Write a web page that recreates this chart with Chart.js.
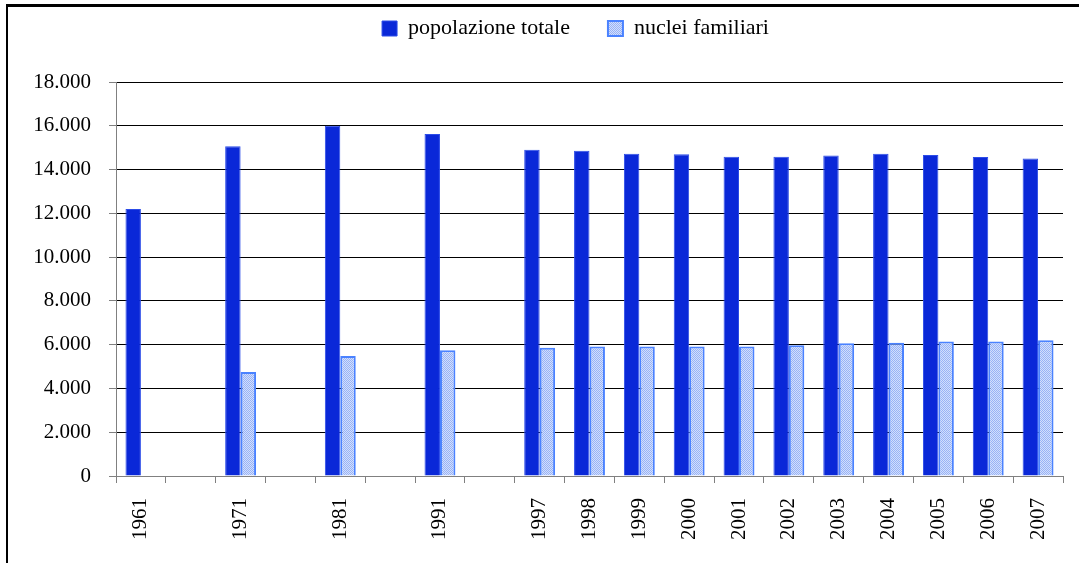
<!DOCTYPE html>
<html><head><meta charset="utf-8">
<script src="https://cdn.jsdelivr.net/npm/chart.js@4.4.1/dist/chart.umd.min.js"></script>
<style>html,body{margin:0;padding:0;background:#fff;}#wrap{width:1079px;height:563px;position:relative;}</style>
</head><body><div id="wrap"><canvas id="c" width="1079" height="563"></canvas></div>
<script>
const categories = ['1961','','1971','','1981','','1991','','1997','1998','1999','2000','2001','2002','2003','2004','2005','2006','2007'];
const popolazioneTotale = [12200,null,15060,null,16000,null,15620,null,14900,14860,14720,14700,14580,14580,14640,14720,14660,14570,14510];
const nucleiFamiliari = [null,null,4750,null,5480,null,5750,null,5860,5920,5920,5920,5920,5970,6070,6090,6150,6150,6200];
const seriesNames = ['popolazione totale','nuclei familiari'];
const yMin = 0, yMax = 18000, yStep = 2000;

function fmt(v){ return String(v).replace(/\B(?=(\d{3})+(?!\d))/g,'.'); }

const FONT = "'Liberation Serif','Times New Roman',serif";
const canvas = document.getElementById('c');
const ctx = canvas.getContext('2d');

const pc = document.createElement('canvas'); pc.width = 2; pc.height = 2;
const pctx = pc.getContext('2d');
pctx.fillStyle = '#d2dffc'; pctx.fillRect(0,0,2,2);
pctx.fillStyle = '#98b2f6'; pctx.fillRect(0,0,1,1); pctx.fillRect(1,1,1,1);
const hatch = ctx.createPattern(pc,'repeat');

const framePlugin = {
  id: 'frame',
  beforeDraw(chart){
    const c = chart.ctx; c.save();
    c.fillStyle = '#fff'; c.fillRect(0,0,chart.width,chart.height);
    c.fillStyle = '#000';
    c.fillRect(6,4,chart.width-6,3);
    c.fillRect(6,4,2,chart.height-4);
    c.restore();
  }
};

const LEGEND_PAD = 38, LEGEND_FS = 22;
const legendPlacer = {
  id: 'legendPlacer',
  beforeLayout(chart){
    const lg = chart.legend;
    if (lg && !lg._patched){
      const orig = lg.fit;
      lg.fit = function(){ orig.call(this); this.height = 82; };
      lg._patched = true;
    }
  },
  afterLayout(chart){
    const lg = chart.legend; if (!lg) return;
    const h = lg.bottom - lg.top;
    lg.top = 28.5 - LEGEND_PAD - LEGEND_FS/2; lg.bottom = lg.top + h;
    const w = lg.right - lg.left;
    lg.left = 575.5 - w/2; lg.right = lg.left + w;
  }
};

new Chart(ctx, {
  type: 'bar',
  data: {
    labels: categories,
    datasets: [
      { label: seriesNames[0], data: popolazioneTotale, backgroundColor: '#0a28d8', borderColor: '#2c4ce8', borderWidth: 1, borderSkipped: 'bottom' },
      { label: seriesNames[1], data: nucleiFamiliari, backgroundColor: hatch, borderColor: '#4a82ff', borderWidth: 2, borderSkipped: 'bottom' }
    ]
  },
  options: {
    responsive: false,
    animation: false,
    devicePixelRatio: 1,
    layout: { padding: { left: 0, right: 16, top: 0, bottom: 0 } },
    datasets: { bar: { categoryPercentage: 0.62, barPercentage: 1 } },
    plugins: {
      legend: {
        position: 'top',
        labels: { font: { family: FONT, size: LEGEND_FS }, color: '#000', boxWidth: 15, boxHeight: 15, padding: LEGEND_PAD }
      },
      tooltip: { enabled: false }
    },
    scales: {
      x: {
        grid: { offset: true, drawOnChartArea: false, tickLength: 7, color: '#808080' },
        border: { color: '#808080' },
        ticks: { font: { family: FONT, size: 21 }, color: '#000', minRotation: 90, maxRotation: 90, autoSkip: false, padding: 15 },
        afterFit(s){ s.height = 87; }
      },
      y: {
        min: yMin, max: yMax,
        grid: { tickLength: 7, color: c => (c.tick && c.tick.value === 0) ? '#808080' : '#000', tickColor: '#808080' },
        border: { color: '#808080' },
        ticks: { stepSize: yStep, font: { family: FONT, size: 21 }, color: '#000', padding: 18, callback: v => fmt(v) },
        afterFit(s){ s.width = 116; }
      }
    }
  },
  plugins: [framePlugin, legendPlacer]
});
</script></body></html>
